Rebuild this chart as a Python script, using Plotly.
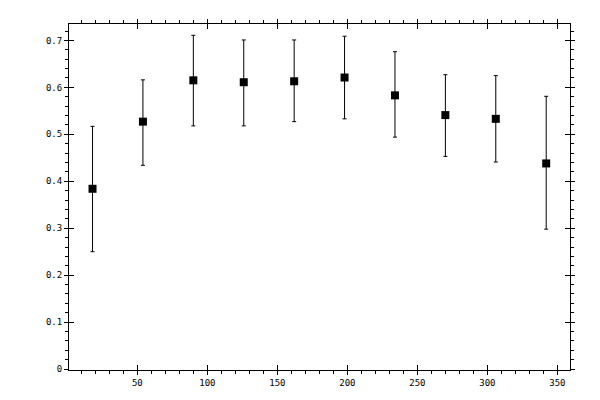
import plotly.graph_objects as go

# bin centres and measured values with error bar ends
angles = [18, 54, 90, 126, 162, 198, 234, 270, 306, 342]
values = [0.384, 0.527, 0.615, 0.611, 0.613, 0.621, 0.583, 0.541, 0.533, 0.438]
upper = [0.517, 0.616, 0.711, 0.701, 0.701, 0.709, 0.676, 0.627, 0.625, 0.581]
lower = [0.250, 0.434, 0.518, 0.518, 0.527, 0.533, 0.494, 0.453, 0.441, 0.298]

err_plus = [u - v for u, v in zip(upper, values)]
err_minus = [v - l for v, l in zip(values, lower)]

x_range = [1.2, 359]
y_range = [-0.002, 0.735]
tick_font = dict(family="DejaVu Sans Mono", size=9, color="black")

fig = go.Figure()
fig.add_trace(go.Scatter(
    x=angles, y=values,
    mode="markers",
    marker=dict(symbol="square", size=8, color="black"),
    error_y=dict(type="data", symmetric=False, array=err_plus, arrayminus=err_minus,
                 color="black", thickness=1, width=2),
    showlegend=False,
))
# invisible trace so the overlay axes get drawn
fig.add_trace(go.Scatter(x=[None], y=[None], xaxis="x2", yaxis="y2",
                         showlegend=False, hoverinfo="skip"))

axis_common = dict(showgrid=False, zeroline=False, showline=True, linecolor="black",
                   linewidth=1, tickcolor="black", tickwidth=1)

# the page body adds an 8px offset, so margins are shifted to compensate
fig.update_layout(
    width=600, height=400,
    margin=dict(l=61, r=38, t=11, b=38),
    paper_bgcolor="white", plot_bgcolor="white",
    xaxis=dict(range=x_range, tick0=0, dtick=50, ticks="outside", ticklen=4,
               mirror="ticks", tickfont=tick_font,
               minor=dict(dtick=10, ticks="outside", ticklen=3, tickcolor="black"),
               **axis_common),
    yaxis=dict(range=y_range, tick0=0, dtick=0.1, ticks="outside", ticklen=4,
               mirror="ticks", tickfont=tick_font,
               minor=dict(dtick=0.02, ticks="outside", ticklen=3, tickcolor="black"),
               **axis_common),
    # overlay axes give the inward half of the major ticks
    xaxis2=dict(range=x_range, overlaying="x", tick0=0, dtick=50, ticks="inside",
                ticklen=5, mirror="ticks", showticklabels=False, **axis_common),
    yaxis2=dict(range=y_range, overlaying="y", tick0=0, dtick=0.1, ticks="inside",
                ticklen=5, mirror="ticks", showticklabels=False, **axis_common),
)

fig.write_html("out.html")
